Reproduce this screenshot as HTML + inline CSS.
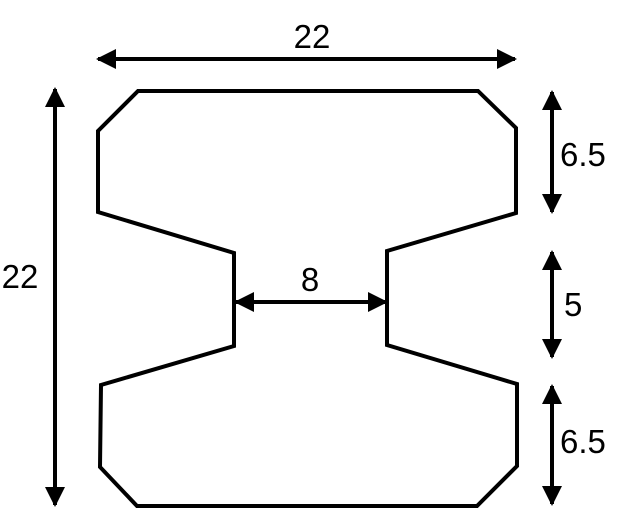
<!DOCTYPE html>
<html><head><style>html,body{margin:0;padding:0;background:#fff;}svg{display:block}</style></head>
<body>
<svg width="627" height="529" viewBox="0 0 627 529" xmlns="http://www.w3.org/2000/svg">
<defs>
<marker id="a" viewBox="0 0 10 10" refX="9" refY="5" markerWidth="5" markerHeight="5" orient="auto-start-reverse" markerUnits="strokeWidth">
<path d="M0,0 L10,5 L0,10 z" fill="#000"/></marker>
</defs>
<polygon points="138,91 478,91 516,128 516,213 387,251 387,345 517,384 517,466 477,506 137,506 100,467 101,385 234,346 234,253 98,212 98,131" fill="none" stroke="#000" stroke-width="4"/>
<g stroke="#000" stroke-width="4" marker-start="url(#a)" marker-end="url(#a)">
<line x1="98" y1="59" x2="515" y2="59"/>
<line x1="55" y1="89" x2="55" y2="505"/>
<line x1="236" y1="302" x2="386" y2="302"/>
<line x1="552" y1="92" x2="552" y2="212"/>
<line x1="552" y1="252" x2="552" y2="357"/>
<line x1="552" y1="386" x2="552" y2="504"/>
</g>
<g font-family="Liberation Sans, sans-serif" font-size="33" fill="#000">
<text x="312" y="48" text-anchor="middle">22</text>
<text x="20" y="288" text-anchor="middle">22</text>
<text x="310" y="291" text-anchor="middle">8</text>
<text x="560" y="166">6.5</text>
<text x="564" y="316">5</text>
<text x="560" y="453">6.5</text>
</g>
</svg>
</body></html>
